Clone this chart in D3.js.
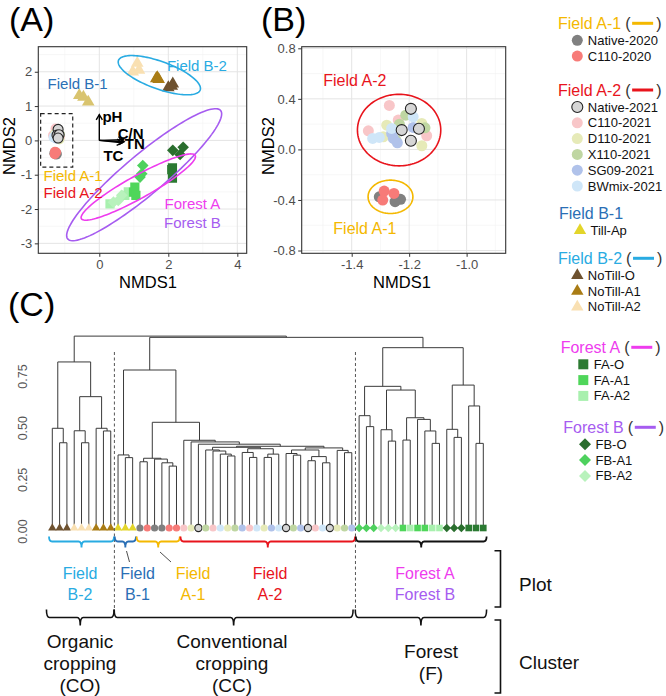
<!DOCTYPE html>
<html><head><meta charset="utf-8">
<script src="https://cdn.jsdelivr.net/npm/d3@7/dist/d3.min.js"></script>
<style>
body{margin:0;background:#fff;}
svg{display:block;font-family:"Liberation Sans",Arial,Helvetica,sans-serif;}
</style></head><body>
<svg id="chart" width="666" height="696"></svg>
<script>
// ================= DATA =================
const groupNames = ["Field A-1","Field A-2","Field B-1","Field B-2","Forest A","Forest B"];
const groupTreatments = [
  ["Native-2020","C110-2020"],
  ["Native-2021","C110-2021","D110-2021","X110-2021","SG09-2021","BWmix-2021"],
  ["Till-Ap"],
  ["NoTill-O","NoTill-A1","NoTill-A2"],
  ["FA-O","FA-A1","FA-A2"],
  ["FB-O","FB-A1","FB-A2"]
];
const groupHasEllipse = [true,true,false,true,true,true];

// NMDS points of Field A (panel B, also shown in panel A)
const fieldA_trt = [
  "Native-2020","Native-2020","Native-2020","C110-2020","C110-2020","C110-2020",
  "C110-2021","C110-2021","C110-2021","C110-2021",
  "D110-2021","D110-2021","D110-2021","D110-2021",
  "X110-2021","X110-2021","X110-2021","X110-2021",
  "SG09-2021","SG09-2021","SG09-2021","SG09-2021",
  "BWmix-2021","BWmix-2021","BWmix-2021","BWmix-2021",
  "Native-2021","Native-2021","Native-2021","Native-2021"];
const fieldA_x = [-1.304,-1.249,-1.230,-1.287,-1.253,-1.292,
  -1.269,-1.342,-1.139,-1.238,
  -1.278,-1.156,-1.290,-1.156,
  -1.212,-1.145,-1.234,-1.246,
  -1.255,-1.241,-1.186,-1.261,
  -1.327,-1.186,-1.261,-1.304,
  -1.194,-1.226,-1.166,-1.194];
const fieldA_y = [-0.375,-0.414,-0.395,-0.330,-0.348,-0.401,
  0.348,0.147,0.108,0.232,
  0.192,0.029,0.100,0.205,
  0.271,0.171,0.200,0.074,
  0.087,0.052,0.174,0.126,
  0.087,0.258,0.166,0.095,
  0.321,0.153,0.163,0.068];

// other NMDS points (panel A)
const other_trt = ["Till-Ap","Till-Ap","Till-Ap",
  "NoTill-A2","NoTill-A2","NoTill-A2","NoTill-A1","NoTill-A1","NoTill-A1","NoTill-O","NoTill-O","NoTill-O",
  "FA-A2","FA-A2","FA-A2","FB-A2","FB-A2","FB-A2","FA-A1","FA-A1","FA-A1","FB-A1","FB-A1","FB-A1",
  "FA-O","FA-O","FA-O","FB-O","FB-O","FB-O"];
const other_x = [-0.46,-0.32,-0.58,
  1.10,0.97,1.15,1.68,1.72,1.65,2.00,2.13,2.10,
  0.74,0.84,0.31,0.41,0.55,0.65,1.03,0.99,1.06,1.26,1.23,1.18,
  2.12,2.12,2.10,2.13,2.34,2.43];
const other_y = [1.26,1.12,1.31,
  2.25,2.00,2.05,1.83,1.78,1.80,1.54,1.65,1.58,
  -1.60,-1.50,-1.85,-1.80,-1.75,-1.60,-1.36,-1.51,-1.60,-0.73,-0.97,-1.07,
  -0.80,-1.10,-0.85,-0.29,-0.41,-0.20];

// 95% ellipses: [group, cx, cy, semi-axis a, semi-axis b, angle(deg)]
const ellipsesA = [[3,1.74,1.90,1.26,0.40,-20],[5,1.30,-1.00,2.90,0.58,40.2],[4,1.13,-1.36,1.89,0.33,29.2]];
const ellipsesB = [[1,-1.235,0.153,0.145,0.283,0],[0,-1.265,-0.375,0.078,0.132,0]];

// environmental vectors (envfit)
const envNames = ["pH","C/N","TN","TC"];
const envX = [0.00,0.70,0.72,0.66];
const envY = [0.75,0.02,-0.04,-0.07];
const envLabX = [0.38,0.91,1.03,0.41];
const envLabY = [0.70,0.20,-0.10,-0.44];

// group labels inside panels: [group, x, y]
const labelsA = [[3,2.83,2.19],[2,-0.63,1.65],[0,-0.76,-1.02],[1,-0.76,-1.51],[4,2.70,-1.85],[5,2.70,-2.38]];
const labelsB = [[1,-1.389,0.548],[0,-1.354,-0.625]];

// axis ticks
const ticksAx = [0,2,4], ticksAy = [-3,-2,-1,0,1,2];
const ticksBx = [-1.4,-1.2,-1.0], ticksBy = [-0.8,-0.4,0.0,0.4,0.8];
const ticksD = [0,0.25,0.5,0.75];

// dendrogram leaves in plotted order
const leafTreatments = [
 "NoTill-O","NoTill-O","NoTill-O","NoTill-A2","NoTill-A2","NoTill-A2","NoTill-A1","NoTill-A1","NoTill-A1",
 "Till-Ap","Till-Ap","Till-Ap",
 "Native-2020","C110-2020","Native-2020","Native-2020","C110-2020","C110-2020",
 "C110-2021","D110-2021","Native-2021","X110-2021","C110-2021","BWmix-2021","D110-2021","X110-2021",
 "SG09-2021","C110-2021","BWmix-2021","D110-2021","SG09-2021","BWmix-2021","Native-2021","X110-2021",
 "SG09-2021","Native-2021","C110-2021","BWmix-2021","Native-2021","D110-2021","X110-2021","SG09-2021",
 "FB-A1","FB-A1","FB-A1","FB-A2","FB-A2","FB-A2","FA-A1","FA-A2","FA-A1","FA-A1","FA-A2","FA-A2",
 "FB-O","FB-O","FB-O","FA-O","FA-O","FA-O"];

// merges: [height, left, right]; numbers = leaf index
const treeCO = [0.818,[0.497,0,[0.427,1,2]],[0.65,[0.485,3,[0.427,4,5]],[0.497,6,[0.484,7,8]]]];
const treeB1 = [0.368,9,[0.355,10,11]];
const treeA1 = [0.352,[0.335,12,13],[0.348,14,[0.33,15,[0.314,16,17]]]];
const a2S1 = [0.392,21,[0.387,22,[0.372,23,[0.363,24,25]]]];
const a2S2 = [0.38,26,[0.356,27,28]];
const a2S3 = [0.372,[0.356,29,30],31];
const a2S4 = [0.375,32,[0.367,33,34]];
const a2S5 = [0.36,[0.34,35,36],[0.33,37,38]];
const a2S6 = [0.39,39,[0.379,40,41]];
const treeA2 = [0.439,18,[0.431,19,[0.42,20,[0.41,[0.405,a2S1,[0.398,a2S2,a2S3]],[0.402,[0.392,a2S4,a2S5],a2S6]]]]];
const treeCC = [0.779,treeB1,[0.526,treeA1,treeA2]];
const treeF = [0.887,
  [0.70,[0.558,42,[0.505,43,44]],[0.682,[0.49,45,[0.435,46,47]],[0.548,[0.44,48,49],[0.54,50,[0.484,51,[0.424,52,53]]]]]],
  [0.706,[0.492,54,[0.453,55,56]],[0.605,57,[0.424,58,59]]]];
const dendroTree = [0.943,treeCO,[0.937,treeCC,treeF]];

// brackets under leaves
const plotBracketGroups = [[3],[2],[0],[1],[4,5]];
const plotBracketFrom = [0,9,12,18,42];
const plotBracketTo = [8,11,17,41,59];
const plotBracketLines = [["Field","B-2"],["Field","B-1"],["Field","A-1"],["Field","A-2"],["Forest A","Forest B"]];
const clusterFrom = [0,9,42], clusterTo = [8,41,59];
const clusterLines = [["Organic","cropping","(CO)"],["Conventional","cropping","(CC)"],["Forest","(F)"]];

// ================= STYLES =================
const FONT = '"Liberation Sans", Arial, Helvetica, sans-serif';
const groupColors = ["#f4b800","#e8141c","#2a6fb5","#29abe2","#ee3cee","#a65cf0"];
const trtStyle = {
 "Native-2020":{shape:"circle",fill:"#808080"},
 "C110-2020":{shape:"circle",fill:"#f77b78"},
 "Native-2021":{shape:"circle",fill:"#d6d6d6",stroke:"#262626"},
 "C110-2021":{shape:"circle",fill:"#f8c6c8"},
 "D110-2021":{shape:"circle",fill:"#e6eab8"},
 "X110-2021":{shape:"circle",fill:"#bfd6a2"},
 "SG09-2021":{shape:"circle",fill:"#b0c2ea"},
 "BWmix-2021":{shape:"circle",fill:"#cfe6f8"},
 "Till-Ap":{shape:"triangle",fill:"#e3d52a"},
 "NoTill-O":{shape:"triangle",fill:"#6e5230"},
 "NoTill-A1":{shape:"triangle",fill:"#a97c15"},
 "NoTill-A2":{shape:"triangle",fill:"#f9e0b2"},
 "FA-O":{shape:"square",fill:"#2b7a32"},
 "FA-A1":{shape:"square",fill:"#4fd65a"},
 "FA-A2":{shape:"square",fill:"#a8f0ae"},
 "FB-O":{shape:"diamond",fill:"#2a6e2e"},
 "FB-A1":{shape:"diamond",fill:"#4ed15e"},
 "FB-A2":{shape:"diamond",fill:"#b8f2bc"}
};
const panelAFillOverride = {"Till-Ap":"#d9c46f"};

const svg = d3.select("#chart");

function markerPath(shape, r){
  if(shape==="circle") return d3.symbol(d3.symbolCircle, Math.PI*r*r)();
  if(shape==="triangle"){const h=Math.sqrt(3)*r;return `M0,${-2*h/3}L${r},${h/3}L${-r},${h/3}Z`;}
  if(shape==="square") return `M${-r},${-r}h${2*r}v${2*r}h${-2*r}Z`;
  return `M0,${-r}L${r},0L0,${r}L${-r},0Z`;
}
const sizeSets = {
  dendro:{circle:3.6,triangle:4.2,square:3.3,diamond:4.2},
  legend:{circle:5.5,triangle:6.2,square:5,diamond:6},
  A:{circle:5,triangle:6.3,square:4.6,diamond:5.8},
  B:{circle:5.5,triangle:6,square:5,diamond:6}
};
function drawMarker(g, trt, x, y, set, fillOverride){
  const s = trtStyle[trt];
  g.append("path").attr("d", markerPath(s.shape, sizeSets[set][s.shape]))
   .attr("transform", `translate(${x},${y})`)
   .attr("fill", (fillOverride && fillOverride[trt]) || s.fill)
   .attr("stroke", s.stroke || "none").attr("stroke-width", s.stroke ? 1.1 : 0);
}

// ================= SCATTER PANELS =================
function ellipsePath(x, y, e){
  const [, cx, cy, a, b, ang] = e;
  const t = ang*Math.PI/180, pts = [];
  for(let i=0;i<=120;i++){
    const u = 2*Math.PI*i/120, px = a*Math.cos(u), py = b*Math.sin(u);
    pts.push([cx + px*Math.cos(t) - py*Math.sin(t), cy + px*Math.sin(t) + py*Math.cos(t)]);
  }
  return d3.line().x(d=>x(d[0])).y(d=>y(d[1]))(pts);
}

function panel(cfg){
  const {x, y} = cfg, g = svg.append("g");
  const [xl, xr] = x.range(), [yb, yt] = y.range();
  const clipId = "clip"+cfg.id;
  svg.append("clipPath").attr("id", clipId).append("rect")
    .attr("x",xl).attr("y",yt).attr("width",xr-xl).attr("height",yb-yt);
  const inner = g.append("g").attr("clip-path",`url(#${clipId})`);
  cfg.xMinor.forEach(v=>inner.append("line").attr("x1",x(v)).attr("x2",x(v)).attr("y1",yt).attr("y2",yb).attr("stroke","#f1f1f1").attr("stroke-width",0.6));
  cfg.yMinor.forEach(v=>inner.append("line").attr("y1",y(v)).attr("y2",y(v)).attr("x1",xl).attr("x2",xr).attr("stroke","#f1f1f1").attr("stroke-width",0.6));
  cfg.xTicks.forEach(v=>inner.append("line").attr("x1",x(v)).attr("x2",x(v)).attr("y1",yt).attr("y2",yb).attr("stroke","#e4e4e4").attr("stroke-width",1));
  cfg.yTicks.forEach(v=>inner.append("line").attr("y1",y(v)).attr("y2",y(v)).attr("x1",xl).attr("x2",xr).attr("stroke","#e4e4e4").attr("stroke-width",1));
  cfg.drawInner(inner);
  g.append("rect").attr("x",xl).attr("y",yt).attr("width",xr-xl).attr("height",yb-yt)
    .attr("fill","none").attr("stroke","#333").attr("stroke-width",1.1);
  const ax = g.append("g").attr("transform",`translate(0,${yb})`)
    .call(d3.axisBottom(x).tickValues(cfg.xTicks).tickFormat(cfg.fmt).tickSize(3.5).tickPadding(2.5));
  const ay = g.append("g").attr("transform",`translate(${xl},0)`)
    .call(d3.axisLeft(y).tickValues(cfg.yTicks).tickFormat(cfg.fmt).tickSize(3.5).tickPadding(2.5));
  [ax,ay].forEach(a=>{a.select(".domain").remove();a.selectAll("line").attr("stroke","#333");
    a.selectAll("text").attr("fill","#4d4d4d").style("font-size","13px").style("font-family",FONT);});
  g.append("text").attr("x",cfg.xTitleX).attr("y",281.5).attr("text-anchor","middle").attr("dominant-baseline","central")
    .style("font-size","16.5px").text("NMDS1");
  g.append("text").attr("transform",`translate(${cfg.yTitleX},146) rotate(-90)`).attr("text-anchor","middle")
    .attr("dominant-baseline","central").style("font-size","16.5px").text("NMDS2");
  g.append("text").attr("x",cfg.tagX).attr("y",31).style("font-size","34px").text(cfg.tag);
}

const xA = d3.scaleLinear().domain([-1.768,4.272]).range([38.3,246.7]);
const yA = d3.scaleLinear().domain([-3.29,2.73]).range([253.3,46.7]);
panel({id:"A", x:xA, y:yA, xTicks:ticksAx, yTicks:ticksAy, xMinor:[-1,1,3], yMinor:[-2.5,-1.5,-0.5,0.5,1.5,2.5],
  fmt:d=>String(d), xTitleX:148, yTitleX:9, tagX:9, tag:"(A)",
  drawInner:g=>{
    other_trt.forEach((t,i)=>drawMarker(g,t,xA(other_x[i]),yA(other_y[i]),"A",panelAFillOverride));
    fieldA_trt.forEach((t,i)=>drawMarker(g,t,xA(fieldA_x[i]),yA(fieldA_y[i]),"A"));
    ellipsesA.forEach(e=>g.append("path").attr("d",ellipsePath(xA,yA,e)).attr("fill","none")
      .attr("stroke",groupColors[e[0]]).attr("stroke-width",1.6));
    // dashed box around Field A
    g.append("rect").attr("x",xA(-1.70)).attr("y",yA(0.78)).attr("width",xA(-0.77)-xA(-1.70))
      .attr("height",yA(-0.78)-yA(0.78)).attr("fill","none").attr("stroke","#222").attr("stroke-width",1.2)
      .attr("stroke-dasharray","4,3");
    // env arrows
    envNames.forEach((n,i)=>{
      const x0=xA(0),y0=yA(0),x1=xA(envX[i]),y1=yA(envY[i]);
      const ang=Math.atan2(y1-y0,x1-x0), L=6;
      g.append("line").attr("x1",x0).attr("y1",y0).attr("x2",x1).attr("y2",y1).attr("stroke","#000").attr("stroke-width",1.4);
      g.append("path").attr("d",`M${x1+L*Math.cos(ang+2.6)},${y1+L*Math.sin(ang+2.6)}L${x1},${y1}L${x1+L*Math.cos(ang-2.6)},${y1+L*Math.sin(ang-2.6)}`)
        .attr("fill","none").attr("stroke","#000").attr("stroke-width",1.4);
      g.append("text").attr("x",xA(envLabX[i])).attr("y",yA(envLabY[i])).attr("text-anchor","middle")
        .attr("dominant-baseline","central").style("font-size","15px").style("font-weight","bold").text(n);
    });
    labelsA.forEach(l=>g.append("text").attr("x",xA(l[1])).attr("y",yA(l[2])).attr("text-anchor","middle")
      .attr("dominant-baseline","central").attr("fill",groupColors[l[0]]).style("font-size","15px").text(groupNames[l[0]]));
  }});

const xB = d3.scaleLinear().domain([-1.574,-0.864]).range([301.7,505.7]);
const yB = d3.scaleLinear().domain([-0.822,0.8127]).range([253.3,46.7]);
panel({id:"B", x:xB, y:yB, xTicks:ticksBx, yTicks:ticksBy, xMinor:[-1.5,-1.3,-1.1,-0.9], yMinor:[-0.6,-0.2,0.2,0.6],
  fmt:d=>d.toFixed(1), xTitleX:402, yTitleX:268, tagX:261, tag:"(B)",
  drawInner:g=>{
    ellipsesB.forEach(e=>g.append("path").attr("d",ellipsePath(xB,yB,e)).attr("fill","none")
      .attr("stroke",groupColors[e[0]]).attr("stroke-width",1.6));
    fieldA_trt.forEach((t,i)=>drawMarker(g,t,xB(fieldA_x[i]),yB(fieldA_y[i]),"B"));
    labelsB.forEach(l=>g.append("text").attr("x",xB(l[1])).attr("y",yB(l[2])).attr("text-anchor","middle")
      .attr("dominant-baseline","central").attr("fill",groupColors[l[0]]).style("font-size","16px").text(groupNames[l[0]]));
  }});

// ================= LEGEND =================
const legendTitleY = [23.3,90,213.3,258.3,347.3,427.3];
const legendTitleX = [558,558,559,558,560.7,563.3];
const legendMarkerX = [577.3,577.3,580,577.3,583.3,585];
const leg = svg.append("g");
groupNames.forEach((name,gi)=>{
  const t = leg.append("text").attr("x",legendTitleX[gi]).attr("y",legendTitleY[gi]).attr("dominant-baseline","central")
    .attr("fill",groupColors[gi]).style("font-size","16px").text(name);
  if(groupHasEllipse[gi]){
    const w = t.node().getComputedTextLength();
    const px = legendTitleX[gi]+w+4;
    leg.append("text").attr("x",px).attr("y",legendTitleY[gi]).attr("dominant-baseline","central").attr("fill","#333").style("font-size","16px").text("(");
    leg.append("line").attr("x1",px+7).attr("x2",px+28).attr("y1",legendTitleY[gi]).attr("y2",legendTitleY[gi])
      .attr("stroke",groupColors[gi]).attr("stroke-width",3);
    leg.append("text").attr("x",px+31).attr("y",legendTitleY[gi]).attr("dominant-baseline","central").attr("fill","#333").style("font-size","16px").text(")");
  }
  groupTreatments[gi].forEach((trt,k)=>{
    const yy = legendTitleY[gi]+17+k*15.8;
    drawMarker(leg,trt,legendMarkerX[gi],yy,"legend");
    leg.append("text").attr("x",legendMarkerX[gi]+10.5).attr("y",yy).attr("dominant-baseline","central")
      .attr("fill","#111").style("font-size","13px").text(trt);
  });
});

// ================= DENDROGRAM =================
const xD = d3.scaleLinear().domain([0,leafTreatments.length-1]).range([52.3,483.3]);
const yD = d3.scaleLinear().domain([0,0.75]).range([531,376]);
const leafEnd = yD(0)-6, leafMarkY = yD(0)-3;
function lay(n){
  if(typeof n==="number") return {x:xD(n),h:0};
  const l=lay(n[1]), r=lay(n[2]);
  return {x:(l.x+r.x)/2,h:n[0],kids:[l,r]};
}
const segs=[];
(function walk(n){
  if(!n.kids) return;
  const yy=yD(n.h);
  segs.push(`M${n.kids[0].x},${yy}H${n.kids[1].x}`);
  n.kids.forEach(k=>{segs.push(`M${k.x},${yy}V${k.kids?yD(k.h):leafEnd}`);walk(k);});
})(lay(dendroTree));
const dg = svg.append("g");
dg.append("text").attr("x",8).attr("y",316).style("font-size","34px").text("(C)");
dg.append("path").attr("d",segs.join("")).attr("fill","none").attr("stroke","#3a3a3a").attr("stroke-width",1);
leafTreatments.forEach((t,i)=>drawMarker(dg,t,xD(i),leafMarkY,"dendro"));
const axD = dg.append("g").attr("transform","translate(36,0)")
  .call(d3.axisLeft(yD).tickValues(ticksD).tickFormat(d=>d.toFixed(2)).tickSize(0).tickPadding(0));
axD.select(".domain").remove();
axD.selectAll("text").attr("x",0).attr("dy",null).attr("transform","translate(-9,0) rotate(-90)")
  .attr("text-anchor","middle").attr("fill","#555").style("font-size","12.5px").style("font-family",FONT);

// dashed separators
[8.5,41.5].forEach(v=>dg.append("line").attr("x1",xD(v)).attr("x2",xD(v)).attr("y1",352).attr("y2",609)
  .attr("stroke","#555").attr("stroke-width",1).attr("stroke-dasharray","3,2.5"));

function brace(g,x0,x1,y,up,down,color,w){
  const xc=(x0+x1)/2;
  g.append("path").attr("d",`M${x0},${y-up}Q${x0},${y} ${x0+3},${y}L${xc-3},${y}Q${xc},${y} ${xc},${y+down}Q${xc},${y} ${xc+3},${y}L${x1-3},${y}Q${x1},${y} ${x1},${y-up}`)
   .attr("fill","none").attr("stroke",color).attr("stroke-width",w);
}
const plotLabelX = [80,137.5,193,270,425];
plotBracketGroups.forEach((gs,i)=>{
  const x0 = xD(plotBracketFrom[i]-0.45), x1 = xD(plotBracketTo[i]+0.45);
  const col = gs.length>1 ? "#111" : groupColors[gs[0]];
  brace(dg,x0,x1,541.5,5,6,col,1.8);
  plotBracketLines[i].forEach((ln,k)=>dg.append("text").attr("x",plotLabelX[i]).attr("y",573.5+k*21)
    .attr("text-anchor","middle").attr("dominant-baseline","central")
    .attr("fill",groupColors[gs[Math.min(k,gs.length-1)]]).style("font-size","16px").text(ln));
});
// leader lines
dg.append("line").attr("x1",126.5).attr("y1",551).attr("x2",129.5).attr("y2",562).attr("stroke","#222").attr("stroke-width",0.8);
dg.append("line").attr("x1",160).attr("y1",552).attr("x2",171).attr("y2",562).attr("stroke","#222").attr("stroke-width",0.8);

const clusterLabelX = [80,232,431];
const clusterLabelY0 = [641,641,651];
clusterFrom.forEach((f,i)=>{
  const x0 = xD(f-0.8), x1 = xD(clusterTo[i]+0.45);
  brace(dg,x0+ (i===0?0:2),x1-(i===1?2:0),617.5,8,8,"#111",1.6);
  clusterLines[i].forEach((ln,k)=>dg.append("text").attr("x",clusterLabelX[i]).attr("y",clusterLabelY0[i]+k*22)
    .attr("text-anchor","middle").attr("dominant-baseline","central").attr("fill","#111").style("font-size","19px").text(ln));
});
// side brackets
function sideBracket(y0,y1,label,ly){
  dg.append("path").attr("d",`M494.5,${y0}H500.5V${y1}H494.5`).attr("fill","none").attr("stroke","#111").attr("stroke-width",1.6);
  dg.append("text").attr("x",519).attr("y",ly).attr("dominant-baseline","central").attr("fill","#111").style("font-size","19px").text(label);
}
sideBracket(550.7,607,"Plot",584);
sideBracket(620,693,"Cluster",662);
</script>
</body></html>
